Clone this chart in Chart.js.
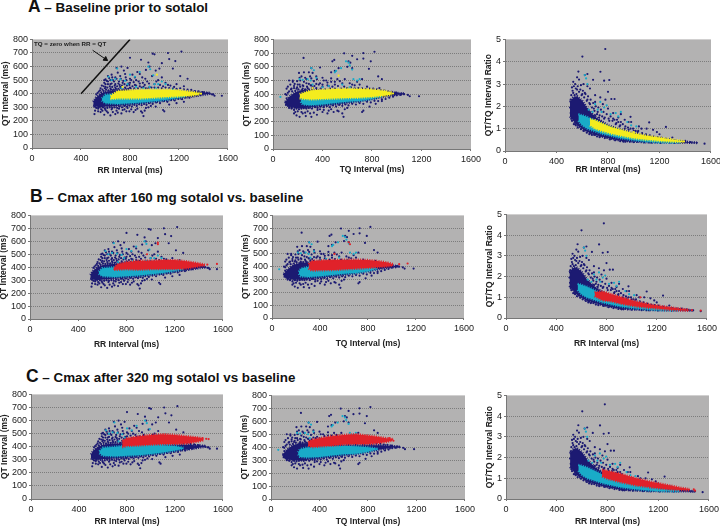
<!DOCTYPE html>
<html>
<head>
<meta charset="utf-8">
<title>QT, TQ and QT/TQ interval plots</title>
<script src="https://cdn.jsdelivr.net/npm/chart.js@4"></script>
<style>
  html, body { margin: 0; padding: 0; background: #fff; }
  body { position: relative; width: 720px; height: 528px; overflow: hidden; font-family: "Liberation Sans", Arial, sans-serif; }
  canvas { position: absolute; filter: blur(0.3px); }
  .head { position: absolute; font-weight: bold; color: #111; white-space: nowrap; font-size: 13.4px; line-height: 18px; }
  .head b { font-size: 17.5px; }
  .note { position: absolute; z-index: 2; font-weight: bold; color: #222; white-space: nowrap; font-size: 6.2px; line-height: 8px; }
</style>
</head>
<body>
<div class="head" style="left:28px;top:-3px"><b>A</b> &ndash; Baseline prior to sotalol</div>
<div class="head" style="left:30px;top:187px"><b>B</b> &ndash; Cmax after 160 mg sotalol vs. baseline</div>
<div class="head" style="left:26px;top:367px"><b>C</b> &ndash; Cmax after 320 mg sotalol vs baseline</div>
<div class="note" style="left:34px;top:40px">TQ = zero when RR = QT</div>

<canvas id="a1"></canvas><canvas id="a2"></canvas><canvas id="a3"></canvas>
<canvas id="b1"></canvas><canvas id="b2"></canvas><canvas id="b3"></canvas>
<canvas id="c1"></canvas><canvas id="c2"></canvas><canvas id="c3"></canvas>

<script>
// loose baseline beats, [x, y]
var navyRrQt = [[800,665],[890,650],[985,695],[1000,690],[1110,700],[1220,710],[1120,655],[1170,640],[1060,625],[1150,585],[1210,530],[1270,510],[1040,585],[950,630],[960,600],[930,575],[860,560],[1010,570],[880,545],[840,520],[780,590],[730,600],[690,590],[650,540],[620,530],[600,505],[640,500],[680,520],[720,530],[760,545],[800,510],[820,540],[850,500],[900,520],[940,490],[980,530],[1030,500],[1060,520],[1090,480],[1130,460],[1180,470],[1240,455],[1000,470],[960,450],[920,465],[880,475],[840,465],[800,480],[770,500],[740,480],[710,490],[680,470],[650,475],[620,470],[590,480],[570,460],[560,440],[600,450],[640,440],[680,445],[720,450],[760,445],[800,445],[660,500],[700,555],[750,570],[610,495],[585,455],[630,515],[510,250],[515,275],[540,290],[560,265],[590,245],[600,280],[620,260],[640,240],[650,285],[680,250],[690,275],[710,290],[730,255],[740,280],[770,270],[780,295],[810,285],[830,265],[860,290],[890,270],[910,235],[900,260],[930,295],[1080,270],[1070,280],[970,310],[1010,305],[1120,320],[1180,330],[1240,340],[1380,395],[1400,410],[1430,405],[1450,400],[1470,395],[1490,385],[1550,385],[1480,395]];
var navyRrQtRim = [[525,395],[535,405],[545,415],[555,425],[565,410],[575,430],[585,420],[595,440],[605,430],[615,445],[625,425],[635,455],[645,430],[655,450],[665,430],[675,460],[685,435],[695,455],[705,435],[715,465],[725,440],[735,460],[745,430],[755,470],[765,435],[775,460],[785,435],[795,465],[805,440],[820,455],[835,440],[850,460],[865,440],[880,455],[895,445],[910,450],[930,440],[950,440],[975,445],[1000,445],[1030,445],[1060,440],[1090,445],[1120,442],[1150,438],[1180,435],[1210,440],[1240,432],[1270,430],[1300,428],[1330,420],[1360,418],[1390,412],[590,500],[600,470],[620,490],[640,470],[655,520],[670,490],[690,510],[705,475],[725,510],[745,495],[765,520],[785,475],[810,500],[830,485],[870,490],[905,480],[925,510],[955,475],[1015,490],[1045,465],[1070,455],[1110,465],[1160,450],[510,305],[525,295],[545,300],[565,285],[580,300],[595,290],[615,295],[635,300],[655,295],[675,300],[695,295],[715,305],[735,300],[755,310],[775,305],[795,312],[815,305],[835,318],[855,310],[875,322],[895,315],[915,325],[935,318],[955,330],[985,325],[1015,335],[1045,330],[1075,345],[1105,340],[1135,352],[1165,350],[1195,362],[1225,360],[1255,372],[1285,370],[1315,382],[1345,385],[1375,392],[540,270],[575,275],[610,270],[660,265],[700,260],[755,285],[795,270],[845,280],[920,275],[950,300]];
var navyTqQt = [[247,665],[480,640],[495,650],[575,698],[640,680],[730,700],[820,710],[680,655],[730,660],[790,640],[775,585],[850,530],[880,510],[610,640],[625,630],[600,600],[640,590],[530,590],[500,570],[470,560],[380,595],[310,590],[290,560],[250,560],[215,520],[160,500],[130,500],[220,500],[260,520],[300,530],[350,530],[400,520],[430,500],[470,490],[520,510],[560,480],[640,470],[680,490],[720,510],[760,455],[810,440],[860,445],[500,470],[450,460],[400,470],[350,475],[310,465],[270,480],[240,465],[200,470],[170,460],[140,470],[120,455],[110,440],[150,440],[190,440],[240,440],[280,445],[320,450],[350,445],[100,400],[110,370],[100,340],[105,325],[130,310],[150,300],[180,270],[190,245],[215,235],[240,260],[265,240],[280,275],[310,235],[330,265],[355,250],[380,290],[410,285],[440,260],[470,290],[490,270],[520,280],[570,235],[560,260],[600,300],[720,270],[730,280],[780,310],[830,330],[880,350],[980,395],[1000,410],[1040,405],[1060,400],[1090,395],[1105,385],[1180,385],[1030,395]];
var navyTqQtRim = [[110,395],[120,410],[130,420],[145,435],[155,420],[170,445],[180,425],[195,450],[205,435],[220,455],[235,430],[245,460],[260,435],[275,455],[290,435],[305,465],[320,440],[335,460],[350,435],[370,470],[385,440],[400,455],[420,435],[440,465],[460,440],[480,455],[500,440],[525,460],[550,440],[575,455],[600,445],[630,450],[660,442],[690,445],[720,442],[750,438],[780,440],[810,435],[840,435],[870,430],[900,428],[930,420],[960,418],[990,412],[160,490],[175,475],[195,495],[215,470],[230,530],[250,490],[270,510],[290,475],[310,515],[330,495],[355,510],[380,480],[410,500],[440,485],[470,515],[500,490],[540,495],[580,510],[620,480],[660,465],[700,470],[210,555],[320,555],[115,320],[130,300],[150,295],[170,285],[190,295],[210,290],[230,295],[250,300],[270,295],[290,300],[315,295],[340,305],[360,300],[385,310],[410,305],[435,312],[460,305],[485,318],[510,310],[535,322],[560,315],[585,325],[610,318],[640,330],[670,325],[700,335],[730,330],[760,345],[790,340],[820,352],[850,350],[880,362],[910,365],[940,375],[970,382],[1000,392],[170,260],[200,275],[230,270],[260,265],[300,260],[360,285],[400,270],[450,280],[530,275],[580,290]];
var navyRrRatio = [[779,4.57],[601,4.23],[741,3.55],[684,3.19],[770,3.15],[810,3.18],[800,2.65],[640,3.45],[620,3.4],[570,3.56],[560,3.3],[530,3.1],[545,3.0],[575,3.2],[610,3.0],[640,2.9],[660,2.8],[590,2.95],[520,2.85],[530,2.6],[620,2.6],[700,2.5],[740,2.4],[780,2.3],[826,2.33],[851,2.33],[700,2.2],[760,2.1],[800,1.9],[840,1.7],[880,1.5],[900,1.65],[930,1.4],[960,1.3],[980,1.3],[975,1.53],[1040,1.1],[1060,1.0],[1100,1.0],[1120,1.28],[1150,0.95],[1180,0.85],[1250,1.08],[1200,0.75],[1300,0.6],[1400,0.45],[1440,0.4],[1490,0.37],[1550,0.33],[1380,0.42],[1340,0.38],[1250,0.4],[1170,0.4],[1120,0.38],[1060,0.42],[950,0.45],[920,0.42],[900,0.5],[860,0.55],[820,0.6],[780,0.65],[740,0.7],[700,0.75],[660,0.8],[620,0.95],[580,1.1],[545,1.2],[515,1.45],[510,1.7],[505,1.95],[510,2.2],[700,1.6],[730,1.5],[770,1.45],[810,1.35],[860,1.2],[890,1.1],[930,1.0],[960,0.95],[1000,0.9],[1030,0.85],[900,1.3],[870,1.4],[840,1.45],[690,1.9],[720,1.75],[660,2.1],[640,2.3],[600,2.55],[560,2.75]];
var navyRrRatioRim = [[510,2.3],[515,2.5],[525,2.7],[535,2.9],[540,2.5],[550,2.8],[555,2.55],[565,2.9],[575,2.65],[585,2.75],[595,2.5],[605,2.7],[615,2.4],[625,2.55],[635,2.25],[645,2.45],[655,2.15],[665,2.3],[675,1.95],[685,2.15],[695,1.8],[705,2.0],[715,1.65],[725,1.95],[735,1.6],[745,1.85],[755,1.55],[765,1.75],[775,1.5],[790,1.65],[805,1.45],[820,1.55],[835,1.35],[850,1.4],[865,1.25],[880,1.3],[895,1.15],[915,1.2],[935,1.1],[955,1.05],[975,1.0],[995,1.0],[1015,0.9],[1035,0.9],[1065,0.8],[1095,0.75],[1125,0.7],[1155,0.65],[1185,0.62],[1215,0.6],[1250,0.55],[1280,0.52],[1320,0.48],[1360,0.45],[520,1.35],[535,1.2],[550,1.15],[565,1.05],[590,0.98],[610,0.9],[635,0.82],[655,0.75],[675,0.72],[695,0.72],[715,0.65],[735,0.62],[755,0.66],[775,0.58],[795,0.6],[815,0.52],[835,0.56],[855,0.48],[875,0.52],[895,0.44],[915,0.48],[935,0.42],[970,0.42],[1000,0.4],[1030,0.42],[1080,0.38],[1140,0.37],[1210,0.36],[1280,0.38],[1320,0.36],[1360,0.37]];

var cyanRrQt = [[695,585],[625,525],[650,500],[680,510],[720,505],[760,495],[800,540],[840,525],[880,560],[950,600],[965,580],[990,535],[1000,470],[1030,470],[1060,490],[1090,470],[730,440],[780,470],[850,450],[910,440],[960,450],[1010,440],[1150,430]];
var cyanTqQt = [[310,590],[330,575],[215,510],[240,505],[280,510],[305,500],[350,520],[500,560],[510,570],[590,640],[610,630],[620,610],[550,590],[640,580],[650,510],[680,500],[700,510],[60,380],[320,470],[400,450],[450,460],[560,470],[620,450]];
var cyanRrRatio = [[620,3.4],[630,3.25],[640,3.0],[700,2.1],[740,2.2],[770,1.95],[790,2.05],[750,1.75],[820,1.65],[860,1.7],[880,1.55],[900,1.75],[950,1.3],[980,1.15],[1020,1.1],[720,1.85],[680,1.75],[650,1.85]];

var yellowRrQt = [[740,450],[1020,540],[1380,400]];
var yellowTqQt = [[530,535],[320,445],[970,405]];
var yellowRrRatio = [[1390,0.43],[1000,0.85]];
var redBRrQt = [[1060,590],[1060,578],[970,500],[1550,425],[1470,420],[700,385]];
var redBTqQt = [[640,590],[650,575],[520,500],[1130,425],[1060,420]];
var redBRrRatio = [[1550,0.36],[1070,1.0],[1480,0.38]];
var redCRrQt = [[1430,465],[1460,460],[1480,458]];
var redCTqQt = [[1000,460],[975,470],[1010,450]];
var redCRrRatio = [[1480,0.46],[1490,0.4]];

// dense part of each cloud, read as an upper and a lower edge
var navyBandRrX = [500,520,560,600,640,680,760,860,1000,1100,1200,1300,1400,1460];
var navyBandRrTop = [340,370,400,415,420,425,425,420,415,415,415,415,410,406];
var navyBandRrBot = [315,305,300,305,306,310,316,324,338,350,364,378,392,400];
var navyBandTqX = [100,130,180,240,300,400,500,600,700,800,900,1000,1060];
var navyBandTqTop = [345,380,415,430,430,425,420,415,415,415,415,410,404];
var navyBandTqBot = [325,310,298,298,304,314,324,335,348,364,382,396,402];
var navyBandRatioX = [505,530,560,600,640,680,720,800,900,1000,1100,1200,1300,1400,1490];
var navyBandRatioTop = [2.2,2.4,2.45,2.25,1.9,1.65,1.45,1.15,0.95,0.78,0.66,0.55,0.46,0.42,0.37];
var navyBandRatioBot = [1.55,1.35,1.15,1.0,0.85,0.77,0.7,0.58,0.46,0.42,0.39,0.38,0.37,0.37,0.36];

var cyanBandRrX = [570,600,700,800,900,1000,1100,1200,1270];
var cyanBandRrTop = [365,392,400,410,415,415,412,405,392];
var cyanBandRrBot = [350,330,325,330,335,345,355,370,385];
var cyanBandTqX = [224,240,300,400,500,600,700,800,860,880];
var cyanBandTqTop = [360,385,398,408,412,412,408,400,392,387];
var cyanBandTqBot = [345,325,320,325,335,345,350,365,380,385];
var cyanBandRatioX = [570,600,640,700,760,820,900,1000,1100,1200,1300,1370];
var cyanBandRatioTop = [1.65,1.6,1.52,1.35,1.18,1.05,0.9,0.72,0.62,0.52,0.44,0.41];
var cyanBandRatioBot = [1.35,1.15,1.0,0.88,0.76,0.68,0.57,0.48,0.42,0.38,0.37,0.38];

var yellowBandRrX = [640,700,800,900,1000,1100,1200,1300,1370];
var yellowBandRrTop = [385,420,425,430,430,430,425,415,405];
var yellowBandRrBot = [360,365,365,365,370,375,380,385,395];
var yellowBandTqX = [215,260,310,400,500,600,700,800,900,960];
var yellowBandTqTop = [400,415,428,432,438,440,438,435,425,412];
var yellowBandTqBot = [370,365,362,365,368,372,375,380,388,398];
var yellowBandRatioX = [660,700,760,820,900,1000,1100,1200,1300,1380];
var yellowBandRatioTop = [1.42,1.38,1.22,1.08,0.95,0.8,0.68,0.6,0.52,0.45];
var yellowBandRatioBot = [1.15,1.0,0.88,0.78,0.68,0.57,0.5,0.45,0.42,0.4];

var redBBandRrX = [700,720,800,900,1000,1100,1200,1300,1400,1450];
var redBBandRrTop = [395,420,440,450,450,455,455,445,430,420];
var redBBandRrBot = [380,380,385,380,385,385,385,390,405,415];
var redBBandTqX = [305,330,420,520,620,720,800,880,965,1010];
var redBBandTqTop = [420,445,450,452,455,455,452,445,432,420];
var redBBandTqBot = [385,370,372,375,380,385,390,395,402,408];
var redBBandRatioX = [705,770,840,920,1035,1150,1300,1430,1460];
var redBBandRatioTop = [1.25,1.28,1.15,1.0,0.8,0.65,0.52,0.42,0.39];
var redBBandRatioBot = [1.05,0.85,0.8,0.68,0.55,0.48,0.4,0.36,0.36];

var redCBandRrX = [760,800,900,1000,1100,1200,1300,1400,1440];
var redCBandRrTop = [445,465,480,490,495,490,480,470,460];
var redCBandRrBot = [395,405,410,415,420,420,425,440,450];
var redCBandTqX = [306,340,400,500,600,700,800,880,950,1000];
var redCBandTqTop = [440,458,470,485,495,500,490,480,470,465];
var redCBandTqBot = [412,400,405,412,420,425,425,430,440,450];
var redCBandRatioX = [757,800,895,1026,1150,1287,1380,1450];
var redCBandRatioTop = [1.42,1.36,1.23,1.0,0.82,0.66,0.54,0.48];
var redCBandRatioBot = [1.08,0.98,0.82,0.65,0.55,0.46,0.43,0.42];

var diagonalX = [400, 800];
var diagonalY = [400, 800];
var arrowX = [495, 600];
var arrowY = [720, 655];

var qtTicksMax = 800;
var ratioTicksMax = 5;
var intervalMax = 1600;

var NAVY = "#1c1a72";
var CYAN = "#19abc8";
var YELLOW = "#f4ec1e";
var RED = "#e0222a";

function zip(xs, ys) {
  return xs.map(function (x, i) {
    return { x: x, y: ys[i] };
  });
}

function pairs(list) {
  return list.map(function (p) {
    return { x: p[0], y: p[1] };
  });
}

// upper and lower edge, the upper one fills down to the next dataset
// the dashed thick border makes the rim look like packed dots
function band(color, xs, top, bot) {
  var edge = { showLine: true, borderColor: color, borderWidth: 2.4, borderDash: [1, 1.3], pointRadius: 0 };
  return [
    Object.assign({ data: zip(xs, top), fill: "+1", backgroundColor: color }, edge),
    Object.assign({ data: zip(xs, bot), fill: false }, edge),
  ];
}

function dots(color, list) {
  return [{ data: pairs(list), backgroundColor: color, borderColor: color, pointRadius: 1.1, borderWidth: 0 }];
}

var plotBack = {
  id: "plotBack",
  beforeDraw: function (chart) {
    var a = chart.chartArea;
    chart.ctx.fillStyle = "#b3b2b2";
    chart.ctx.fillRect(a.left, a.top, a.right - a.left, a.bottom - a.top);
  },
};

function panel(id, box, xTitle, yTitle, yMax, yStep, datasets) {
  var el = document.getElementById(id);
  var left = box[0], right = box[1], top = box[2], bottom = box[3];
  var axisW = box[4];
  var axisH = box[5];
  var w = right - left + axisW + 12;
  var h = bottom - top + 6 + axisH;
  el.style.left = left - axisW + "px";
  el.style.top = top - 6 + "px";
  el.style.width = w + "px";
  el.style.height = h + "px";
  el.width = w;
  el.height = h;
  new Chart(el.getContext("2d"), {
    type: "scatter",
    data: { datasets: datasets },
    plugins: [plotBack],
    options: {
      responsive: false,
      animation: false,
      layout: { autoPadding: false, padding: { top: 6, right: 12, left: 0, bottom: 0 } },
      plugins: { legend: { display: false }, tooltip: { enabled: false } },
      scales: {
        x: {
          type: "linear",
          min: 0,
          max: intervalMax,
          afterFit: function (s) { s.height = axisH; },
          ticks: {
            stepSize: 400,
            maxRotation: 0,
            padding: 3,
            color: "#222",
            font: { size: 9, family: "Liberation Sans" },
            callback: function (v) { return String(v); },
          },
          grid: { drawOnChartArea: false, tickLength: 2, color: "#777" },
          border: { color: "#777" },
          title: { display: true, text: xTitle, padding: { top: 3, bottom: 0 }, color: "#222", font: { size: 8.5, weight: "bold", family: "Liberation Sans" } },
        },
        y: {
          min: 0,
          max: yMax,
          afterFit: function (s) { s.width = axisW; },
          ticks: { stepSize: yStep, autoSkip: false, padding: 2, color: "#222", font: { size: 9, family: "Liberation Sans" } },
          grid: {
            color: function (c) { return c.tick.value === yMax ? "rgba(0,0,0,0)" : "#7c7c7c"; },
            tickColor: "#777",
            tickLength: 2,
          },
          border: { color: "#777", dash: [1, 1] },
          title: { display: true, text: yTitle, padding: { top: 1, bottom: 1 }, color: "#222", font: { size: 8.5, weight: "bold", family: "Liberation Sans" } },
        },
      },
    },
  });
}

// first dataset ends up on top
function layers(topDots, topBand, cyanDots, cyanBand, navyDots, navyBand) {
  return [].concat(topDots, topBand, cyanDots, cyanBand, navyDots, navyBand);
}

var navy1 = band(NAVY, navyBandRrX, navyBandRrTop, navyBandRrBot);
var navy2 = band(NAVY, navyBandTqX, navyBandTqTop, navyBandTqBot);
var navy3 = band(NAVY, navyBandRatioX, navyBandRatioTop, navyBandRatioBot);
var cyan1 = band(CYAN, cyanBandRrX, cyanBandRrTop, cyanBandRrBot);
var cyan2 = band(CYAN, cyanBandTqX, cyanBandTqTop, cyanBandTqBot);
var cyan3 = band(CYAN, cyanBandRatioX, cyanBandRatioTop, cyanBandRatioBot);
var navyDots1 = dots(NAVY, navyRrQt.concat(navyRrQtRim));
var navyDots2 = dots(NAVY, navyTqQt.concat(navyTqQtRim));
var navyDots3 = dots(NAVY, navyRrRatio.concat(navyRrRatioRim));

var extraA1 = [
  { data: zip(diagonalX, diagonalY), showLine: true, borderColor: "#111", borderWidth: 1.5, pointRadius: 0 },
  { data: zip(arrowX, arrowY), showLine: true, borderColor: "#111", borderWidth: 1, pointRadius: [0, 2.6], pointStyle: "triangle", pointRotation: 125, backgroundColor: "#111" },
];

panel("a1", [32, 229, 38, 148, 32, 28], "RR Interval (ms)", "QT Interval (ms)", qtTicksMax, 100,
  extraA1.concat(layers(dots(YELLOW, yellowRrQt), band(YELLOW, yellowBandRrX, yellowBandRrTop, yellowBandRrBot), dots(CYAN, cyanRrQt), cyan1, navyDots1, navy1)));
panel("a2", [273, 472, 38, 149, 32, 26], "TQ Interval (ms)", "QT Interval (ms)", qtTicksMax, 100,
  layers(dots(YELLOW, yellowTqQt), band(YELLOW, yellowBandTqX, yellowBandTqTop, yellowBandTqBot), dots(CYAN, cyanTqQt), cyan2, navyDots2, navy2));
panel("a3", [505, 712, 38, 151, 22, 24], "RR Interval (ms)", "QT/TQ Interval Ratio", ratioTicksMax, 1,
  layers(dots(YELLOW, yellowRrRatio), band(YELLOW, yellowBandRatioX, yellowBandRatioTop, yellowBandRatioBot), dots(CYAN, cyanRrRatio), cyan3, navyDots3, navy3));

panel("b1", [30, 224, 214, 319, 32, 31], "RR Interval (ms)", "QT Interval (ms)", qtTicksMax, 100,
  layers(dots(RED, redBRrQt), band(RED, redBBandRrX, redBBandRrTop, redBBandRrBot), dots(CYAN, cyanRrQt), cyan1, navyDots1, navy1));
panel("b2", [272, 465, 214, 318, 32, 31], "TQ Interval (ms)", "QT Interval (ms)", qtTicksMax, 100,
  layers(dots(RED, redBTqQt), band(RED, redBBandTqX, redBBandTqTop, redBBandTqBot), dots(CYAN, cyanTqQt), cyan2, navyDots2, navy2));
panel("b3", [506, 708, 213, 318, 22, 31], "RR Interval (ms)", "QT/TQ Interval Ratio", ratioTicksMax, 1,
  layers(dots(RED, redBRrRatio), band(RED, redBBandRatioX, redBBandRatioTop, redBBandRatioBot), dots(CYAN, cyanRrRatio), cyan3, navyDots3, navy3));

panel("c1", [31, 224, 393, 499, 32, 28], "RR Interval (ms)", "QT Interval (ms)", qtTicksMax, 100,
  layers(dots(RED, redCRrQt), band(RED, redCBandRrX, redCBandRrTop, redCBandRrBot), dots(CYAN, cyanRrQt), cyan1, navyDots1, navy1));
panel("c2", [271, 466, 394, 499, 32, 28], "TQ Interval (ms)", "QT Interval (ms)", qtTicksMax, 100,
  layers(dots(RED, redCTqQt), band(RED, redCBandTqX, redCBandTqTop, redCBandTqBot), dots(CYAN, cyanTqQt), cyan2, navyDots2, navy2));
panel("c3", [506, 710, 394, 499, 22, 28], "RR Interval (ms)", "QT/TQ Interval Ratio", ratioTicksMax, 1,
  layers(dots(RED, redCRrRatio), band(RED, redCBandRatioX, redCBandRatioTop, redCBandRatioBot), dots(CYAN, cyanRrRatio), cyan3, navyDots3, navy3));
</script>
</body>
</html>
